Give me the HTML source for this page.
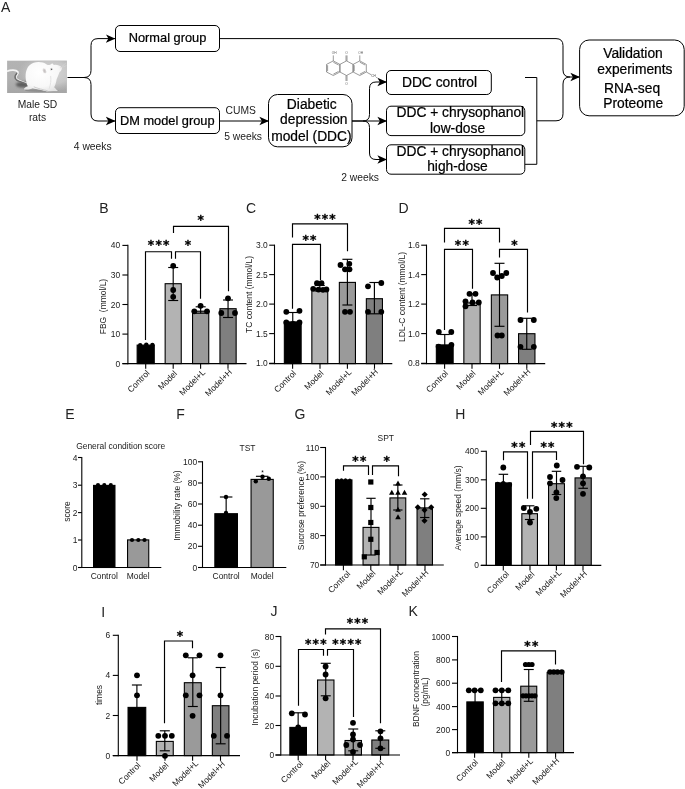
<!DOCTYPE html>
<html lang="en"><head><meta charset="utf-8"><title>Figure</title>
<style>html,body{margin:0;padding:0;background:#fff;}svg{display:block;}text{font-family:"Liberation Sans",sans-serif;}.st{font-family:"DejaVu Sans",sans-serif;font-weight:bold;stroke:#000;stroke-width:0.35px;}</style>
</head><body>
<svg width="685" height="789" viewBox="0 0 685 789">
<rect width="685" height="789" fill="#fff"/>
<defs>
<marker id="ah" viewBox="0 0 10 10" refX="9.5" refY="5" markerWidth="9.6" markerHeight="9.6" orient="auto" markerUnits="userSpaceOnUse"><path d="M0,0.6 L10,5 L0,9.4 L2.6,5 Z" fill="#000"/></marker>
<linearGradient id="bg" x1="0" y1="0" x2="0" y2="1"><stop offset="0" stop-color="#b3b3b3"/><stop offset="0.55" stop-color="#b1b1b1"/><stop offset="1" stop-color="#a6a6a6"/></linearGradient>
<radialGradient id="glow" cx="0.5" cy="0.5" r="0.5"><stop offset="0" stop-color="#d6d6d6" stop-opacity="1"/><stop offset="0.6" stop-color="#cccccc" stop-opacity="0.8"/><stop offset="1" stop-color="#c0c0c0" stop-opacity="0"/></radialGradient>
<radialGradient id="fur" cx="0.42" cy="0.35" r="0.7"><stop offset="0" stop-color="#ffffff"/><stop offset="0.7" stop-color="#f8f8f8"/><stop offset="1" stop-color="#e4e4e4"/></radialGradient>
<filter id="b3" x="-50%" y="-50%" width="200%" height="200%"><feGaussianBlur stdDeviation="3"/></filter>
<filter id="b5" x="-30%" y="-30%" width="160%" height="160%"><feGaussianBlur stdDeviation="5"/></filter>
<filter id="b8" x="-30%" y="-80%" width="160%" height="260%"><feGaussianBlur stdDeviation="8"/></filter>
<filter id="b12" x="-40%" y="-80%" width="180%" height="260%"><feGaussianBlur stdDeviation="12"/></filter>
<clipPath id="rc"><rect x="7.1" y="60.4" width="59.8" height="32.5"/></clipPath>
</defs>
<text x="1.00" y="12.30" font-size="14" text-anchor="start" fill="#222">A</text>
<g clip-path="url(#rc)">
<rect x="7" y="60.4" width="60" height="32.6" fill="url(#bg)"/>
<g transform="translate(4,57) scale(0.0993)">
<ellipse cx="470" cy="160" rx="330" ry="190" fill="url(#glow)"/>
<ellipse cx="200" cy="278" rx="82" ry="30" fill="#5e5e5e" filter="url(#b12)"/>
<ellipse cx="380" cy="338" rx="170" ry="14" fill="#8e8e8e" filter="url(#b8)"/>
<path d="M34,142 C70,128 120,128 140,150 C152,170 118,185 118,205 C122,235 180,250 240,268" fill="none" stroke="#f4f4f4" stroke-width="17" stroke-linecap="round" filter="url(#b3)"/>
<path d="M128,165 C110,185 100,205 125,230 C150,250 200,258 245,280" fill="none" stroke="#6c6c6c" stroke-width="15" stroke-linecap="round" filter="url(#b5)"/>
<g filter="url(#b5)">
<path d="M225,250 C208,180 222,112 260,80 C300,45 380,40 430,75 C450,85 470,80 485,62 C492,70 498,78 505,80 C530,75 565,85 582,105 C586,125 575,140 560,150 C550,175 540,200 530,225 C525,260 515,290 505,305 C520,320 535,335 545,343 L430,347 C400,335 330,325 290,314 C270,324 240,330 203,327 C198,312 225,300 240,295 C230,280 227,265 225,250 Z" fill="url(#fur)"/>
</g>
<path d="M300,300 C340,318 400,330 440,340" fill="none" stroke="#cfcfcf" stroke-width="10" filter="url(#b8)"/>
<path d="M470,190 C475,240 470,280 455,320" fill="none" stroke="#e3e3e3" stroke-width="10" filter="url(#b8)"/>
<ellipse cx="408" cy="140" rx="13" ry="24" fill="#c4c0c0" filter="url(#b5)" transform="rotate(-22 408 140)"/>
<ellipse cx="478" cy="123" rx="9" ry="7" fill="#3c3c3c" filter="url(#b3)" transform="rotate(-25 478 123)"/>
<ellipse cx="572" cy="108" rx="6" ry="5" fill="#d9caca" filter="url(#b3)"/>
<path d="M585,95 L625,60 M588,105 L630,85" stroke="#e6e6e6" stroke-width="2.5" fill="none" filter="url(#b3)"/>
</g>
</g>
<text x="37.50" y="108.20" font-size="10.3" text-anchor="middle" fill="#1a1a1a">Male SD</text>
<text x="37.50" y="121.20" font-size="10.3" text-anchor="middle" fill="#1a1a1a">rats</text>
<text x="73.80" y="149.60" font-size="10.3" text-anchor="start" fill="#1a1a1a">4 weeks</text>
<text x="225.60" y="113.90" font-size="10.3" text-anchor="start" fill="#1a1a1a">CUMS</text>
<text x="224.20" y="140.00" font-size="10.3" text-anchor="start" fill="#1a1a1a">5 weeks</text>
<text x="341.20" y="180.50" font-size="10.3" text-anchor="start" fill="#1a1a1a">2 weeks</text>
<path d="M67.5,77.5 L84,77.5 Q91,77.5 91,70.5 L91,45.5 Q91,38.6 98,38.6 L115,38.6" fill="none" stroke="#000" stroke-width="1.0" marker-end="url(#ah)"/>
<path d="M84,77.5 Q91,77.5 91,84.5 L91,114 Q91,121 98,121 L115,121" fill="none" stroke="#000" stroke-width="1.0" marker-end="url(#ah)"/>
<path d="M220,121 L268.5,121" fill="none" stroke="#000" stroke-width="1.0" marker-end="url(#ah)"/>
<path d="M352,121 L386.5,121" fill="none" stroke="#000" stroke-width="1.0" marker-end="url(#ah)"/>
<path d="M352,121 L363,121 Q369.5,121 369.5,114.5 L369.5,88.5 Q369.5,82 376,82 L386.5,82" fill="none" stroke="#000" stroke-width="1.0" marker-end="url(#ah)"/>
<path d="M363,121 Q369.5,121 369.5,127.5 L369.5,153 Q369.5,159.5 376,159.5 L386.5,159.5" fill="none" stroke="#000" stroke-width="1.0" marker-end="url(#ah)"/>
<path d="M220,38.6 L556,38.6 Q563,38.6 563,45.6 L563,70 Q563,77 570,77 L579.5,77" fill="none" stroke="#000" stroke-width="1.0" marker-end="url(#ah)"/>
<path d="M525,77.5 L536.8,77.5 L536.8,164.3 L525,164.3" fill="none" stroke="#000" stroke-width="1.0"/>
<path d="M536.8,120.8 L556,120.8 Q563,120.8 563,113.8 L563,84 Q563,77 570,77" fill="none" stroke="#000" stroke-width="1.0"/>
<rect x="115.5" y="25.5" width="104.0" height="26.0" rx="4.5" ry="4.5" fill="#fff" stroke="#000" stroke-width="1"/>
<text x="167.50" y="42.00" font-size="12.8" text-anchor="middle" fill="#000" stroke="#000" stroke-width="0.22">Normal group</text>
<rect x="115.5" y="107.7" width="104.0" height="25.799999999999997" rx="4.5" ry="4.5" fill="#fff" stroke="#000" stroke-width="1"/>
<text x="167.30" y="124.50" font-size="12.8" text-anchor="middle" fill="#000" stroke="#000" stroke-width="0.22">DM model group</text>
<rect x="268.5" y="94.5" width="83.5" height="52.30000000000001" rx="9" ry="9" fill="#fff" stroke="#000" stroke-width="1"/>
<text x="311.80" y="108.60" font-size="13.8" text-anchor="middle" fill="#000" stroke="#000" stroke-width="0.22">Diabetic</text>
<text x="313.80" y="124.40" font-size="13.8" text-anchor="middle" fill="#000" stroke="#000" stroke-width="0.22">depression</text>
<text x="311.40" y="140.70" font-size="13.8" text-anchor="middle" fill="#000" stroke="#000" stroke-width="0.22">model (DDC)</text>
<rect x="386.5" y="70.5" width="104.80000000000001" height="24.0" rx="4.5" ry="4.5" fill="#fff" stroke="#000" stroke-width="1"/>
<text x="439.50" y="86.60" font-size="13.8" text-anchor="middle" fill="#000" stroke="#000" stroke-width="0.22">DDC control</text>
<rect x="386.5" y="106.2" width="138.29999999999995" height="29.39999999999999" rx="4.5" ry="4.5" fill="#fff" stroke="#000" stroke-width="1"/>
<text x="460.30" y="116.60" font-size="13.8" text-anchor="middle" fill="#000" stroke="#000" stroke-width="0.22">DDC + chrysophanol</text>
<text x="457.50" y="132.70" font-size="13.8" text-anchor="middle" fill="#000" stroke="#000" stroke-width="0.22">low-dose</text>
<rect x="386.5" y="144.8" width="138.29999999999995" height="29.399999999999977" rx="4.5" ry="4.5" fill="#fff" stroke="#000" stroke-width="1"/>
<text x="460.30" y="155.60" font-size="13.8" text-anchor="middle" fill="#000" stroke="#000" stroke-width="0.22">DDC + chrysophanol</text>
<text x="457.50" y="171.40" font-size="13.8" text-anchor="middle" fill="#000" stroke="#000" stroke-width="0.22">high-dose</text>
<rect x="579.6" y="40" width="104.60000000000002" height="75.8" rx="9.5" ry="9.5" fill="#fff" stroke="#000" stroke-width="1"/>
<text x="633.00" y="58.10" font-size="13.8" text-anchor="middle" fill="#000" stroke="#000" stroke-width="0.22">Validation</text>
<text x="634.90" y="73.90" font-size="13.8" text-anchor="middle" fill="#000" stroke="#000" stroke-width="0.22">experiments</text>
<text x="632.10" y="93.10" font-size="13.8" text-anchor="middle" fill="#000" stroke="#000" stroke-width="0.22">RNA-seq</text>
<text x="633.20" y="108.20" font-size="13.8" text-anchor="middle" fill="#000" stroke="#000" stroke-width="0.22">Proteome</text>
<line x1="326.50" y1="64.40" x2="333.30" y2="60.90" stroke="#5c5c5c" stroke-width="0.62" stroke-linecap="butt"/>
<line x1="333.30" y1="60.90" x2="339.90" y2="64.40" stroke="#5c5c5c" stroke-width="0.62" stroke-linecap="butt"/>
<line x1="339.90" y1="64.40" x2="339.90" y2="72.00" stroke="#5c5c5c" stroke-width="0.62" stroke-linecap="butt"/>
<line x1="339.90" y1="72.00" x2="333.30" y2="75.50" stroke="#5c5c5c" stroke-width="0.62" stroke-linecap="butt"/>
<line x1="333.30" y1="75.50" x2="326.50" y2="72.00" stroke="#5c5c5c" stroke-width="0.62" stroke-linecap="butt"/>
<line x1="326.50" y1="72.00" x2="326.50" y2="64.40" stroke="#5c5c5c" stroke-width="0.62" stroke-linecap="butt"/>
<line x1="339.90" y1="64.40" x2="346.50" y2="60.90" stroke="#5c5c5c" stroke-width="0.62" stroke-linecap="butt"/>
<line x1="346.50" y1="60.90" x2="353.10" y2="64.40" stroke="#5c5c5c" stroke-width="0.62" stroke-linecap="butt"/>
<line x1="353.10" y1="64.40" x2="353.10" y2="72.00" stroke="#5c5c5c" stroke-width="0.62" stroke-linecap="butt"/>
<line x1="353.10" y1="72.00" x2="346.50" y2="75.50" stroke="#5c5c5c" stroke-width="0.62" stroke-linecap="butt"/>
<line x1="346.50" y1="75.50" x2="339.90" y2="72.00" stroke="#5c5c5c" stroke-width="0.62" stroke-linecap="butt"/>
<line x1="339.90" y1="72.00" x2="339.90" y2="64.40" stroke="#5c5c5c" stroke-width="0.62" stroke-linecap="butt"/>
<line x1="353.10" y1="64.40" x2="359.80" y2="60.90" stroke="#5c5c5c" stroke-width="0.62" stroke-linecap="butt"/>
<line x1="359.80" y1="60.90" x2="366.30" y2="64.40" stroke="#5c5c5c" stroke-width="0.62" stroke-linecap="butt"/>
<line x1="366.30" y1="64.40" x2="366.30" y2="72.00" stroke="#5c5c5c" stroke-width="0.62" stroke-linecap="butt"/>
<line x1="366.30" y1="72.00" x2="359.80" y2="75.50" stroke="#5c5c5c" stroke-width="0.62" stroke-linecap="butt"/>
<line x1="359.80" y1="75.50" x2="353.10" y2="72.00" stroke="#5c5c5c" stroke-width="0.62" stroke-linecap="butt"/>
<line x1="353.10" y1="72.00" x2="353.10" y2="64.40" stroke="#5c5c5c" stroke-width="0.62" stroke-linecap="butt"/>
<line x1="327.60" y1="65.20" x2="327.60" y2="71.20" stroke="#5c5c5c" stroke-width="0.62" stroke-linecap="butt"/>
<line x1="333.30" y1="62.20" x2="338.60" y2="65.00" stroke="#5c5c5c" stroke-width="0.62" stroke-linecap="butt"/>
<line x1="333.30" y1="74.20" x2="338.60" y2="71.40" stroke="#5c5c5c" stroke-width="0.62" stroke-linecap="butt"/>
<line x1="354.20" y1="65.20" x2="354.20" y2="71.20" stroke="#5c5c5c" stroke-width="0.62" stroke-linecap="butt"/>
<line x1="359.80" y1="62.20" x2="365.10" y2="65.00" stroke="#5c5c5c" stroke-width="0.62" stroke-linecap="butt"/>
<line x1="359.80" y1="74.20" x2="365.10" y2="71.40" stroke="#5c5c5c" stroke-width="0.62" stroke-linecap="butt"/>
<line x1="333.30" y1="60.90" x2="333.30" y2="55.40" stroke="#5c5c5c" stroke-width="0.62" stroke-linecap="butt"/>
<line x1="359.80" y1="60.90" x2="359.80" y2="55.40" stroke="#5c5c5c" stroke-width="0.62" stroke-linecap="butt"/>
<line x1="346.00" y1="60.90" x2="346.00" y2="55.40" stroke="#5c5c5c" stroke-width="0.62" stroke-linecap="butt"/>
<line x1="347.00" y1="60.90" x2="347.00" y2="55.40" stroke="#5c5c5c" stroke-width="0.62" stroke-linecap="butt"/>
<line x1="346.00" y1="75.50" x2="346.00" y2="81.00" stroke="#5c5c5c" stroke-width="0.62" stroke-linecap="butt"/>
<line x1="347.00" y1="75.50" x2="347.00" y2="81.00" stroke="#5c5c5c" stroke-width="0.62" stroke-linecap="butt"/>
<line x1="366.30" y1="72.00" x2="371.30" y2="74.80" stroke="#5c5c5c" stroke-width="0.62" stroke-linecap="butt"/>
<text x="334.20" y="54.00" font-size="3.2" text-anchor="middle" fill="#5c5c5c">OH</text>
<text x="360.70" y="54.00" font-size="3.2" text-anchor="middle" fill="#5c5c5c">OH</text>
<text x="346.50" y="54.00" font-size="3.2" text-anchor="middle" fill="#5c5c5c">O</text>
<text x="346.50" y="84.60" font-size="3.2" text-anchor="middle" fill="#5c5c5c">O</text>
<text x="374.30" y="77.30" font-size="3.2" text-anchor="middle" fill="#444">CH<tspan font-size="2.4" dy="0.6">3</tspan></text>
<text x="99.30" y="213.30" font-size="14" text-anchor="start" fill="#222">B</text>
<rect x="137.15" y="345.10" width="17.10" height="18.50" fill="#000000" stroke="#000" stroke-width="1.1"/>
<rect x="165.15" y="283.70" width="16.10" height="79.90" fill="#b3b3b3" stroke="#000" stroke-width="1.1"/>
<rect x="192.55" y="311.20" width="16.20" height="52.40" fill="#9a9a9a" stroke="#000" stroke-width="1.1"/>
<rect x="219.95" y="308.70" width="16.20" height="54.90" fill="#7f7f7f" stroke="#000" stroke-width="1.1"/>
<line x1="173.20" y1="267.50" x2="173.20" y2="300.50" stroke="#000" stroke-width="1.15" stroke-linecap="butt"/>
<line x1="168.20" y1="267.50" x2="178.20" y2="267.50" stroke="#000" stroke-width="1.15" stroke-linecap="butt"/>
<line x1="168.20" y1="300.50" x2="178.20" y2="300.50" stroke="#000" stroke-width="1.15" stroke-linecap="butt"/>
<line x1="200.65" y1="306.80" x2="200.65" y2="313.20" stroke="#000" stroke-width="1.15" stroke-linecap="butt"/>
<line x1="195.65" y1="306.80" x2="205.65" y2="306.80" stroke="#000" stroke-width="1.15" stroke-linecap="butt"/>
<line x1="195.65" y1="313.20" x2="205.65" y2="313.20" stroke="#000" stroke-width="1.15" stroke-linecap="butt"/>
<line x1="228.05" y1="300.00" x2="228.05" y2="317.50" stroke="#000" stroke-width="1.15" stroke-linecap="butt"/>
<line x1="223.05" y1="300.00" x2="233.05" y2="300.00" stroke="#000" stroke-width="1.15" stroke-linecap="butt"/>
<line x1="223.05" y1="317.50" x2="233.05" y2="317.50" stroke="#000" stroke-width="1.15" stroke-linecap="butt"/>
<line x1="127.90" y1="244.85" x2="127.90" y2="364.15" stroke="#000" stroke-width="1.1" stroke-linecap="butt"/>
<line x1="122.40" y1="363.60" x2="246.50" y2="363.60" stroke="#000" stroke-width="1.1" stroke-linecap="butt"/>
<line x1="122.40" y1="245.40" x2="127.90" y2="245.40" stroke="#000" stroke-width="1.1" stroke-linecap="butt"/>
<text x="120.20" y="248.40" font-size="8.45" text-anchor="end" fill="#1a1a1a">40</text>
<line x1="122.40" y1="275.00" x2="127.90" y2="275.00" stroke="#000" stroke-width="1.1" stroke-linecap="butt"/>
<text x="120.20" y="278.00" font-size="8.45" text-anchor="end" fill="#1a1a1a">30</text>
<line x1="122.40" y1="304.50" x2="127.90" y2="304.50" stroke="#000" stroke-width="1.1" stroke-linecap="butt"/>
<text x="120.20" y="307.50" font-size="8.45" text-anchor="end" fill="#1a1a1a">20</text>
<line x1="122.40" y1="334.10" x2="127.90" y2="334.10" stroke="#000" stroke-width="1.1" stroke-linecap="butt"/>
<text x="120.20" y="337.10" font-size="8.45" text-anchor="end" fill="#1a1a1a">10</text>
<line x1="122.40" y1="363.60" x2="127.90" y2="363.60" stroke="#000" stroke-width="1.1" stroke-linecap="butt"/>
<text x="120.20" y="366.60" font-size="8.45" text-anchor="end" fill="#1a1a1a">0</text>
<line x1="145.70" y1="363.60" x2="145.70" y2="368.80" stroke="#000" stroke-width="1.1" stroke-linecap="butt"/>
<text x="150.20" y="373.70" font-size="8.45" text-anchor="end" fill="#1a1a1a" transform="rotate(-45 150.20 373.70)">Control</text>
<line x1="173.20" y1="363.60" x2="173.20" y2="368.80" stroke="#000" stroke-width="1.1" stroke-linecap="butt"/>
<text x="177.70" y="374.10" font-size="8.45" text-anchor="end" fill="#1a1a1a" transform="rotate(-45 177.70 374.10)">Model</text>
<line x1="200.60" y1="363.60" x2="200.60" y2="368.80" stroke="#000" stroke-width="1.1" stroke-linecap="butt"/>
<text x="205.80" y="372.90" font-size="8.45" text-anchor="end" fill="#1a1a1a" transform="rotate(-45 205.80 372.90)">Model+L</text>
<line x1="228.00" y1="363.60" x2="228.00" y2="368.80" stroke="#000" stroke-width="1.1" stroke-linecap="butt"/>
<text x="232.50" y="372.70" font-size="8.45" text-anchor="end" fill="#1a1a1a" transform="rotate(-45 232.50 372.70)">Model+H</text>
<text x="105.80" y="306.50" font-size="8.45" text-anchor="middle" fill="#1a1a1a" transform="rotate(-90 105.80 306.50)">FBG&#160;&#160;(mmol/L)</text>
<circle cx="140.20" cy="345.30" r="2.2" fill="#000"/>
<circle cx="146.30" cy="344.60" r="2.2" fill="#000"/>
<circle cx="152.40" cy="345.00" r="2.2" fill="#000"/>
<circle cx="173.20" cy="265.80" r="2.9" fill="#000"/>
<circle cx="173.20" cy="290.00" r="2.9" fill="#000"/>
<circle cx="173.20" cy="296.80" r="2.9" fill="#000"/>
<circle cx="194.30" cy="311.30" r="2.9" fill="#000"/>
<circle cx="200.60" cy="305.80" r="2.9" fill="#000"/>
<circle cx="207.00" cy="311.30" r="2.9" fill="#000"/>
<circle cx="221.30" cy="313.00" r="2.9" fill="#000"/>
<circle cx="228.00" cy="298.30" r="2.9" fill="#000"/>
<circle cx="235.00" cy="313.00" r="2.9" fill="#000"/>
<polyline points="145.50,340.00 145.50,251.70 171.50,251.70 171.50,258.80" fill="none" stroke="#000" stroke-width="1.15" stroke-linejoin="miter"/>
<text x="159.20" y="248.80" font-size="12.2" text-anchor="middle" fill="#000" class="st" letter-spacing="1.2">***</text>
<polyline points="175.50,258.80 175.50,251.70 200.50,251.70 200.50,298.80" fill="none" stroke="#000" stroke-width="1.15" stroke-linejoin="miter"/>
<text x="188.60" y="248.80" font-size="12.2" text-anchor="middle" fill="#000" class="st" letter-spacing="1.2">*</text>
<polyline points="173.50,233.00 173.50,226.30 228.50,226.30 228.50,291.30" fill="none" stroke="#000" stroke-width="1.15" stroke-linejoin="miter"/>
<text x="201.20" y="224.20" font-size="12.2" text-anchor="middle" fill="#000" class="st" letter-spacing="1.2">*</text>
<text x="246.00" y="213.30" font-size="14" text-anchor="start" fill="#222">C</text>
<rect x="284.35" y="321.90" width="16.80" height="41.70" fill="#000000" stroke="#000" stroke-width="1.1"/>
<rect x="311.85" y="288.90" width="15.90" height="74.70" fill="#b3b3b3" stroke="#000" stroke-width="1.1"/>
<rect x="339.35" y="282.40" width="16.10" height="81.20" fill="#9a9a9a" stroke="#000" stroke-width="1.1"/>
<rect x="366.35" y="298.70" width="16.10" height="64.90" fill="#7f7f7f" stroke="#000" stroke-width="1.1"/>
<line x1="292.75" y1="312.50" x2="292.75" y2="322.00" stroke="#000" stroke-width="1.15" stroke-linecap="butt"/>
<line x1="287.75" y1="312.50" x2="297.75" y2="312.50" stroke="#000" stroke-width="1.15" stroke-linecap="butt"/>
<line x1="319.80" y1="285.50" x2="319.80" y2="291.00" stroke="#000" stroke-width="1.15" stroke-linecap="butt"/>
<line x1="314.80" y1="285.50" x2="324.80" y2="285.50" stroke="#000" stroke-width="1.15" stroke-linecap="butt"/>
<line x1="314.80" y1="291.00" x2="324.80" y2="291.00" stroke="#000" stroke-width="1.15" stroke-linecap="butt"/>
<line x1="347.40" y1="259.30" x2="347.40" y2="305.00" stroke="#000" stroke-width="1.15" stroke-linecap="butt"/>
<line x1="342.40" y1="259.30" x2="352.40" y2="259.30" stroke="#000" stroke-width="1.15" stroke-linecap="butt"/>
<line x1="342.40" y1="305.00" x2="352.40" y2="305.00" stroke="#000" stroke-width="1.15" stroke-linecap="butt"/>
<line x1="374.40" y1="282.50" x2="374.40" y2="313.80" stroke="#000" stroke-width="1.15" stroke-linecap="butt"/>
<line x1="369.40" y1="282.50" x2="379.40" y2="282.50" stroke="#000" stroke-width="1.15" stroke-linecap="butt"/>
<line x1="369.40" y1="313.80" x2="379.40" y2="313.80" stroke="#000" stroke-width="1.15" stroke-linecap="butt"/>
<line x1="274.50" y1="244.65" x2="274.50" y2="364.15" stroke="#000" stroke-width="1.1" stroke-linecap="butt"/>
<line x1="269.20" y1="363.60" x2="392.30" y2="363.60" stroke="#000" stroke-width="1.1" stroke-linecap="butt"/>
<line x1="269.20" y1="245.20" x2="274.50" y2="245.20" stroke="#000" stroke-width="1.1" stroke-linecap="butt"/>
<text x="267.80" y="248.20" font-size="8.45" text-anchor="end" fill="#1a1a1a">3.0</text>
<line x1="269.20" y1="274.60" x2="274.50" y2="274.60" stroke="#000" stroke-width="1.1" stroke-linecap="butt"/>
<text x="267.80" y="277.60" font-size="8.45" text-anchor="end" fill="#1a1a1a">2.5</text>
<line x1="269.20" y1="304.10" x2="274.50" y2="304.10" stroke="#000" stroke-width="1.1" stroke-linecap="butt"/>
<text x="267.80" y="307.10" font-size="8.45" text-anchor="end" fill="#1a1a1a">2.0</text>
<line x1="269.20" y1="333.60" x2="274.50" y2="333.60" stroke="#000" stroke-width="1.1" stroke-linecap="butt"/>
<text x="267.80" y="336.60" font-size="8.45" text-anchor="end" fill="#1a1a1a">1.5</text>
<line x1="269.20" y1="363.30" x2="274.50" y2="363.30" stroke="#000" stroke-width="1.1" stroke-linecap="butt"/>
<text x="267.80" y="366.30" font-size="8.45" text-anchor="end" fill="#1a1a1a">1.0</text>
<line x1="292.60" y1="363.60" x2="292.60" y2="368.80" stroke="#000" stroke-width="1.1" stroke-linecap="butt"/>
<text x="296.70" y="373.80" font-size="8.45" text-anchor="end" fill="#1a1a1a" transform="rotate(-45 296.70 373.80)">Control</text>
<line x1="320.00" y1="363.60" x2="320.00" y2="368.80" stroke="#000" stroke-width="1.1" stroke-linecap="butt"/>
<text x="324.10" y="373.90" font-size="8.45" text-anchor="end" fill="#1a1a1a" transform="rotate(-45 324.10 373.90)">Model</text>
<line x1="347.40" y1="363.60" x2="347.40" y2="368.80" stroke="#000" stroke-width="1.1" stroke-linecap="butt"/>
<text x="352.20" y="372.60" font-size="8.45" text-anchor="end" fill="#1a1a1a" transform="rotate(-45 352.20 372.60)">Model+L</text>
<line x1="374.50" y1="363.60" x2="374.50" y2="368.80" stroke="#000" stroke-width="1.1" stroke-linecap="butt"/>
<text x="378.70" y="372.30" font-size="8.45" text-anchor="end" fill="#1a1a1a" transform="rotate(-45 378.70 372.30)">Model+H</text>
<text x="252.00" y="294.50" font-size="8.45" text-anchor="middle" fill="#1a1a1a" transform="rotate(-90 252.00 294.50)">TC content (mmol/L)</text>
<circle cx="286.30" cy="311.80" r="2.9" fill="#000"/>
<circle cx="299.50" cy="310.80" r="2.9" fill="#000"/>
<circle cx="286.30" cy="322.40" r="2.9" fill="#000"/>
<circle cx="293.00" cy="323.80" r="2.9" fill="#000"/>
<circle cx="299.50" cy="322.40" r="2.9" fill="#000"/>
<circle cx="313.20" cy="288.80" r="2.9" fill="#000"/>
<circle cx="317.00" cy="283.20" r="2.9" fill="#000"/>
<circle cx="321.50" cy="283.20" r="2.9" fill="#000"/>
<circle cx="318.50" cy="289.60" r="2.9" fill="#000"/>
<circle cx="323.00" cy="289.80" r="2.9" fill="#000"/>
<circle cx="326.40" cy="289.50" r="2.9" fill="#000"/>
<circle cx="340.50" cy="265.00" r="2.9" fill="#000"/>
<circle cx="349.30" cy="263.80" r="2.9" fill="#000"/>
<circle cx="345.00" cy="269.30" r="2.9" fill="#000"/>
<circle cx="349.50" cy="269.30" r="2.9" fill="#000"/>
<circle cx="345.00" cy="311.80" r="2.9" fill="#000"/>
<circle cx="350.00" cy="311.80" r="2.9" fill="#000"/>
<circle cx="368.00" cy="286.30" r="2.9" fill="#000"/>
<circle cx="381.30" cy="283.00" r="2.9" fill="#000"/>
<circle cx="368.00" cy="311.80" r="2.9" fill="#000"/>
<circle cx="381.30" cy="311.80" r="2.9" fill="#000"/>
<polyline points="292.50,237.50 292.50,223.80 347.50,223.80 347.50,251.30" fill="none" stroke="#000" stroke-width="1.15" stroke-linejoin="miter"/>
<text x="325.60" y="223.40" font-size="12.2" text-anchor="middle" fill="#000" class="st" letter-spacing="1.2">***</text>
<polyline points="292.50,308.80 292.50,244.30 320.50,244.30 320.50,280.00" fill="none" stroke="#000" stroke-width="1.15" stroke-linejoin="miter"/>
<text x="310.10" y="244.20" font-size="12.2" text-anchor="middle" fill="#000" class="st" letter-spacing="1.2">**</text>
<text x="398.50" y="213.30" font-size="14" text-anchor="start" fill="#222">D</text>
<rect x="436.35" y="344.90" width="16.80" height="18.70" fill="#000000" stroke="#000" stroke-width="1.1"/>
<rect x="463.85" y="302.90" width="16.30" height="60.70" fill="#b3b3b3" stroke="#000" stroke-width="1.1"/>
<rect x="491.35" y="294.90" width="16.30" height="68.70" fill="#9a9a9a" stroke="#000" stroke-width="1.1"/>
<rect x="518.55" y="333.70" width="16.40" height="29.90" fill="#7f7f7f" stroke="#000" stroke-width="1.1"/>
<line x1="444.75" y1="334.50" x2="444.75" y2="345.00" stroke="#000" stroke-width="1.15" stroke-linecap="butt"/>
<line x1="439.75" y1="334.50" x2="449.75" y2="334.50" stroke="#000" stroke-width="1.15" stroke-linecap="butt"/>
<line x1="472.00" y1="293.80" x2="472.00" y2="305.50" stroke="#000" stroke-width="1.15" stroke-linecap="butt"/>
<line x1="467.00" y1="293.80" x2="477.00" y2="293.80" stroke="#000" stroke-width="1.15" stroke-linecap="butt"/>
<line x1="467.00" y1="305.50" x2="477.00" y2="305.50" stroke="#000" stroke-width="1.15" stroke-linecap="butt"/>
<line x1="499.50" y1="263.30" x2="499.50" y2="326.30" stroke="#000" stroke-width="1.15" stroke-linecap="butt"/>
<line x1="494.50" y1="263.30" x2="504.50" y2="263.30" stroke="#000" stroke-width="1.15" stroke-linecap="butt"/>
<line x1="494.50" y1="326.30" x2="504.50" y2="326.30" stroke="#000" stroke-width="1.15" stroke-linecap="butt"/>
<line x1="526.75" y1="318.30" x2="526.75" y2="349.30" stroke="#000" stroke-width="1.15" stroke-linecap="butt"/>
<line x1="521.75" y1="318.30" x2="531.75" y2="318.30" stroke="#000" stroke-width="1.15" stroke-linecap="butt"/>
<line x1="521.75" y1="349.30" x2="531.75" y2="349.30" stroke="#000" stroke-width="1.15" stroke-linecap="butt"/>
<line x1="426.50" y1="244.65" x2="426.50" y2="364.15" stroke="#000" stroke-width="1.1" stroke-linecap="butt"/>
<line x1="421.20" y1="363.60" x2="545.20" y2="363.60" stroke="#000" stroke-width="1.1" stroke-linecap="butt"/>
<line x1="421.20" y1="245.20" x2="426.50" y2="245.20" stroke="#000" stroke-width="1.1" stroke-linecap="butt"/>
<text x="419.80" y="248.20" font-size="8.45" text-anchor="end" fill="#1a1a1a">1.6</text>
<line x1="421.20" y1="274.60" x2="426.50" y2="274.60" stroke="#000" stroke-width="1.1" stroke-linecap="butt"/>
<text x="419.80" y="277.60" font-size="8.45" text-anchor="end" fill="#1a1a1a">1.4</text>
<line x1="421.20" y1="304.10" x2="426.50" y2="304.10" stroke="#000" stroke-width="1.1" stroke-linecap="butt"/>
<text x="419.80" y="307.10" font-size="8.45" text-anchor="end" fill="#1a1a1a">1.2</text>
<line x1="421.20" y1="333.60" x2="426.50" y2="333.60" stroke="#000" stroke-width="1.1" stroke-linecap="butt"/>
<text x="419.80" y="336.60" font-size="8.45" text-anchor="end" fill="#1a1a1a">1.0</text>
<line x1="421.20" y1="363.30" x2="426.50" y2="363.30" stroke="#000" stroke-width="1.1" stroke-linecap="butt"/>
<text x="419.80" y="366.30" font-size="8.45" text-anchor="end" fill="#1a1a1a">0.8</text>
<line x1="444.60" y1="363.60" x2="444.60" y2="368.80" stroke="#000" stroke-width="1.1" stroke-linecap="butt"/>
<text x="448.70" y="373.80" font-size="8.45" text-anchor="end" fill="#1a1a1a" transform="rotate(-45 448.70 373.80)">Control</text>
<line x1="472.00" y1="363.60" x2="472.00" y2="368.80" stroke="#000" stroke-width="1.1" stroke-linecap="butt"/>
<text x="476.10" y="373.90" font-size="8.45" text-anchor="end" fill="#1a1a1a" transform="rotate(-45 476.10 373.90)">Model</text>
<line x1="499.50" y1="363.60" x2="499.50" y2="368.80" stroke="#000" stroke-width="1.1" stroke-linecap="butt"/>
<text x="504.30" y="372.60" font-size="8.45" text-anchor="end" fill="#1a1a1a" transform="rotate(-45 504.30 372.60)">Model+L</text>
<line x1="526.80" y1="363.60" x2="526.80" y2="368.80" stroke="#000" stroke-width="1.1" stroke-linecap="butt"/>
<text x="531.00" y="372.30" font-size="8.45" text-anchor="end" fill="#1a1a1a" transform="rotate(-45 531.00 372.30)">Model+H</text>
<text x="404.60" y="297.00" font-size="8.45" text-anchor="middle" fill="#1a1a1a" transform="rotate(-90 404.60 297.00)">LDL-C content (mmol/L)</text>
<circle cx="438.80" cy="332.00" r="2.9" fill="#000"/>
<circle cx="451.30" cy="332.00" r="2.9" fill="#000"/>
<circle cx="438.60" cy="346.60" r="2.9" fill="#000"/>
<circle cx="451.40" cy="344.80" r="2.9" fill="#000"/>
<circle cx="465.50" cy="301.30" r="2.9" fill="#000"/>
<circle cx="469.50" cy="293.80" r="2.9" fill="#000"/>
<circle cx="475.50" cy="293.80" r="2.9" fill="#000"/>
<circle cx="472.50" cy="302.50" r="2.9" fill="#000"/>
<circle cx="478.80" cy="302.50" r="2.9" fill="#000"/>
<circle cx="465.50" cy="306.30" r="2.9" fill="#000"/>
<circle cx="493.00" cy="273.00" r="2.9" fill="#000"/>
<circle cx="506.30" cy="273.00" r="2.9" fill="#000"/>
<circle cx="497.20" cy="277.50" r="2.9" fill="#000"/>
<circle cx="501.80" cy="276.00" r="2.9" fill="#000"/>
<circle cx="497.50" cy="335.50" r="2.9" fill="#000"/>
<circle cx="501.80" cy="335.50" r="2.9" fill="#000"/>
<circle cx="520.50" cy="320.00" r="2.9" fill="#000"/>
<circle cx="533.80" cy="320.00" r="2.9" fill="#000"/>
<circle cx="520.50" cy="346.80" r="2.9" fill="#000"/>
<circle cx="533.80" cy="346.80" r="2.9" fill="#000"/>
<polyline points="444.50,242.50 444.50,228.30 499.50,228.30 499.50,242.50" fill="none" stroke="#000" stroke-width="1.15" stroke-linejoin="miter"/>
<text x="476.10" y="227.50" font-size="12.2" text-anchor="middle" fill="#000" class="st" letter-spacing="1.2">**</text>
<polyline points="444.50,330.00 444.50,249.30 472.50,249.30 472.50,288.80" fill="none" stroke="#000" stroke-width="1.15" stroke-linejoin="miter"/>
<text x="462.40" y="248.80" font-size="12.2" text-anchor="middle" fill="#000" class="st" letter-spacing="1.2">**</text>
<polyline points="499.50,257.50 499.50,249.30 527.50,249.30 527.50,312.50" fill="none" stroke="#000" stroke-width="1.15" stroke-linejoin="miter"/>
<text x="515.10" y="248.80" font-size="12.2" text-anchor="middle" fill="#000" class="st" letter-spacing="1.2">*</text>
<text x="65.30" y="418.80" font-size="14" text-anchor="start" fill="#222">E</text>
<rect x="93.55" y="485.40" width="21.40" height="82.10" fill="#000000" stroke="#000" stroke-width="1.1"/>
<rect x="127.55" y="539.90" width="21.20" height="27.60" fill="#999999" stroke="#000" stroke-width="1.1"/>
<line x1="81.80" y1="456.95" x2="81.80" y2="568.05" stroke="#000" stroke-width="1.1" stroke-linecap="butt"/>
<line x1="78.00" y1="567.50" x2="161.30" y2="567.50" stroke="#000" stroke-width="1.1" stroke-linecap="butt"/>
<line x1="78.00" y1="457.50" x2="81.80" y2="457.50" stroke="#000" stroke-width="1.1" stroke-linecap="butt"/>
<text x="77.40" y="460.50" font-size="8.45" text-anchor="end" fill="#1a1a1a">4</text>
<line x1="78.00" y1="485.20" x2="81.80" y2="485.20" stroke="#000" stroke-width="1.1" stroke-linecap="butt"/>
<text x="77.40" y="488.20" font-size="8.45" text-anchor="end" fill="#1a1a1a">3</text>
<line x1="78.00" y1="512.60" x2="81.80" y2="512.60" stroke="#000" stroke-width="1.1" stroke-linecap="butt"/>
<text x="77.40" y="515.60" font-size="8.45" text-anchor="end" fill="#1a1a1a">2</text>
<line x1="78.00" y1="540.00" x2="81.80" y2="540.00" stroke="#000" stroke-width="1.1" stroke-linecap="butt"/>
<text x="77.40" y="543.00" font-size="8.45" text-anchor="end" fill="#1a1a1a">1</text>
<line x1="78.00" y1="567.50" x2="81.80" y2="567.50" stroke="#000" stroke-width="1.1" stroke-linecap="butt"/>
<text x="77.40" y="570.50" font-size="8.45" text-anchor="end" fill="#1a1a1a">0</text>
<text x="104.25" y="579.30" font-size="8.45" text-anchor="middle" fill="#1a1a1a">Control</text>
<text x="138.15" y="579.30" font-size="8.45" text-anchor="middle" fill="#1a1a1a">Model</text>
<text x="69.50" y="511.50" font-size="8.45" text-anchor="middle" fill="#1a1a1a" transform="rotate(-90 69.50 511.50)">score</text>
<text x="120.70" y="448.70" font-size="8.45" text-anchor="middle" fill="#1a1a1a">General condition score</text>
<circle cx="98.00" cy="485.20" r="2.1" fill="#000"/>
<circle cx="104.30" cy="485.20" r="2.1" fill="#000"/>
<circle cx="110.80" cy="485.20" r="2.1" fill="#000"/>
<circle cx="132.00" cy="540.00" r="2.1" fill="#000"/>
<circle cx="138.30" cy="540.00" r="2.1" fill="#000"/>
<circle cx="144.50" cy="540.00" r="2.1" fill="#000"/>
<text x="176.20" y="418.80" font-size="14" text-anchor="start" fill="#222">F</text>
<rect x="214.85" y="513.70" width="22.60" height="53.80" fill="#000000" stroke="#000" stroke-width="1.1"/>
<rect x="251.05" y="479.40" width="22.20" height="88.10" fill="#999999" stroke="#000" stroke-width="1.1"/>
<line x1="226.15" y1="497.00" x2="226.15" y2="513.80" stroke="#000" stroke-width="1.15" stroke-linecap="butt"/>
<line x1="219.90" y1="497.00" x2="232.40" y2="497.00" stroke="#000" stroke-width="1.15" stroke-linecap="butt"/>
<line x1="262.15" y1="476.30" x2="262.15" y2="479.50" stroke="#000" stroke-width="1.15" stroke-linecap="butt"/>
<line x1="255.90" y1="476.30" x2="268.40" y2="476.30" stroke="#000" stroke-width="1.15" stroke-linecap="butt"/>
<line x1="202.50" y1="461.25" x2="202.50" y2="568.05" stroke="#000" stroke-width="1.1" stroke-linecap="butt"/>
<line x1="198.00" y1="567.50" x2="286.30" y2="567.50" stroke="#000" stroke-width="1.1" stroke-linecap="butt"/>
<line x1="198.00" y1="461.80" x2="202.50" y2="461.80" stroke="#000" stroke-width="1.1" stroke-linecap="butt"/>
<text x="197.20" y="464.80" font-size="8.45" text-anchor="end" fill="#1a1a1a">100</text>
<line x1="198.00" y1="483.00" x2="202.50" y2="483.00" stroke="#000" stroke-width="1.1" stroke-linecap="butt"/>
<text x="197.20" y="486.00" font-size="8.45" text-anchor="end" fill="#1a1a1a">80</text>
<line x1="198.00" y1="504.00" x2="202.50" y2="504.00" stroke="#000" stroke-width="1.1" stroke-linecap="butt"/>
<text x="197.20" y="507.00" font-size="8.45" text-anchor="end" fill="#1a1a1a">60</text>
<line x1="198.00" y1="525.20" x2="202.50" y2="525.20" stroke="#000" stroke-width="1.1" stroke-linecap="butt"/>
<text x="197.20" y="528.20" font-size="8.45" text-anchor="end" fill="#1a1a1a">40</text>
<line x1="198.00" y1="546.30" x2="202.50" y2="546.30" stroke="#000" stroke-width="1.1" stroke-linecap="butt"/>
<text x="197.20" y="549.30" font-size="8.45" text-anchor="end" fill="#1a1a1a">20</text>
<line x1="198.00" y1="567.50" x2="202.50" y2="567.50" stroke="#000" stroke-width="1.1" stroke-linecap="butt"/>
<text x="197.20" y="570.50" font-size="8.45" text-anchor="end" fill="#1a1a1a">0</text>
<text x="226.15" y="579.30" font-size="8.45" text-anchor="middle" fill="#1a1a1a">Control</text>
<text x="262.15" y="579.30" font-size="8.45" text-anchor="middle" fill="#1a1a1a">Model</text>
<text x="180.50" y="505.60" font-size="8.45" text-anchor="middle" fill="#1a1a1a" transform="rotate(-90 180.50 505.60)">Immobility rate (%)</text>
<text x="247.50" y="451.30" font-size="8.45" text-anchor="middle" fill="#1a1a1a">TST</text>
<circle cx="226.00" cy="497.00" r="2.2" fill="#000"/>
<circle cx="226.00" cy="513.00" r="2.2" fill="#000"/>
<circle cx="255.80" cy="481.30" r="2.2" fill="#000"/>
<circle cx="262.50" cy="476.80" r="2.2" fill="#000"/>
<circle cx="268.80" cy="478.80" r="2.2" fill="#000"/>
<text x="262.50" y="474.60" font-size="6.5" text-anchor="middle" fill="#000">*</text>
<text x="294.50" y="418.80" font-size="14" text-anchor="start" fill="#222">G</text>
<rect x="335.55" y="479.90" width="16.40" height="85.10" fill="#000000" stroke="#000" stroke-width="1.1"/>
<rect x="363.05" y="527.40" width="15.90" height="37.60" fill="#b3b3b3" stroke="#000" stroke-width="1.1"/>
<rect x="389.95" y="497.90" width="15.80" height="67.10" fill="#9a9a9a" stroke="#000" stroke-width="1.1"/>
<rect x="417.05" y="507.90" width="15.40" height="57.10" fill="#7f7f7f" stroke="#000" stroke-width="1.1"/>
<line x1="371.00" y1="498.30" x2="371.00" y2="555.00" stroke="#000" stroke-width="1.15" stroke-linecap="butt"/>
<line x1="366.35" y1="498.30" x2="375.65" y2="498.30" stroke="#000" stroke-width="1.15" stroke-linecap="butt"/>
<line x1="366.35" y1="555.00" x2="375.65" y2="555.00" stroke="#000" stroke-width="1.15" stroke-linecap="butt"/>
<line x1="397.85" y1="485.00" x2="397.85" y2="510.00" stroke="#000" stroke-width="1.15" stroke-linecap="butt"/>
<line x1="393.20" y1="485.00" x2="402.50" y2="485.00" stroke="#000" stroke-width="1.15" stroke-linecap="butt"/>
<line x1="393.20" y1="510.00" x2="402.50" y2="510.00" stroke="#000" stroke-width="1.15" stroke-linecap="butt"/>
<line x1="424.75" y1="498.80" x2="424.75" y2="517.50" stroke="#000" stroke-width="1.15" stroke-linecap="butt"/>
<line x1="420.10" y1="498.80" x2="429.40" y2="498.80" stroke="#000" stroke-width="1.15" stroke-linecap="butt"/>
<line x1="420.10" y1="517.50" x2="429.40" y2="517.50" stroke="#000" stroke-width="1.15" stroke-linecap="butt"/>
<line x1="325.50" y1="446.95" x2="325.50" y2="565.55" stroke="#000" stroke-width="1.1" stroke-linecap="butt"/>
<line x1="320.20" y1="565.00" x2="443.80" y2="565.00" stroke="#000" stroke-width="1.1" stroke-linecap="butt"/>
<line x1="320.20" y1="447.50" x2="325.50" y2="447.50" stroke="#000" stroke-width="1.1" stroke-linecap="butt"/>
<text x="319.30" y="450.50" font-size="8.45" text-anchor="end" fill="#1a1a1a">110</text>
<line x1="320.20" y1="476.90" x2="325.50" y2="476.90" stroke="#000" stroke-width="1.1" stroke-linecap="butt"/>
<text x="319.30" y="479.90" font-size="8.45" text-anchor="end" fill="#1a1a1a">100</text>
<line x1="320.20" y1="506.30" x2="325.50" y2="506.30" stroke="#000" stroke-width="1.1" stroke-linecap="butt"/>
<text x="319.30" y="509.30" font-size="8.45" text-anchor="end" fill="#1a1a1a">90</text>
<line x1="320.20" y1="535.60" x2="325.50" y2="535.60" stroke="#000" stroke-width="1.1" stroke-linecap="butt"/>
<text x="319.30" y="538.60" font-size="8.45" text-anchor="end" fill="#1a1a1a">80</text>
<line x1="320.20" y1="565.00" x2="325.50" y2="565.00" stroke="#000" stroke-width="1.1" stroke-linecap="butt"/>
<text x="319.30" y="568.00" font-size="8.45" text-anchor="end" fill="#1a1a1a">70</text>
<line x1="343.40" y1="565.00" x2="343.40" y2="570.20" stroke="#000" stroke-width="1.1" stroke-linecap="butt"/>
<text x="350.80" y="574.30" font-size="8.45" text-anchor="end" fill="#1a1a1a" transform="rotate(-45 350.80 574.30)">Control</text>
<line x1="370.80" y1="565.00" x2="370.80" y2="570.20" stroke="#000" stroke-width="1.1" stroke-linecap="butt"/>
<text x="376.20" y="573.60" font-size="8.45" text-anchor="end" fill="#1a1a1a" transform="rotate(-45 376.20 573.60)">Model</text>
<line x1="398.00" y1="565.00" x2="398.00" y2="570.20" stroke="#000" stroke-width="1.1" stroke-linecap="butt"/>
<text x="403.70" y="572.30" font-size="8.45" text-anchor="end" fill="#1a1a1a" transform="rotate(-45 403.70 572.30)">Model+L</text>
<line x1="425.00" y1="565.00" x2="425.00" y2="570.20" stroke="#000" stroke-width="1.1" stroke-linecap="butt"/>
<text x="429.20" y="573.20" font-size="8.45" text-anchor="end" fill="#1a1a1a" transform="rotate(-45 429.20 573.20)">Model+H</text>
<text x="304.30" y="505.60" font-size="8.45" text-anchor="middle" fill="#1a1a1a" transform="rotate(-90 304.30 505.60)">Sucrose preference (%)</text>
<text x="385.80" y="441.30" font-size="8.45" text-anchor="middle" fill="#1a1a1a">SPT</text>
<circle cx="337.50" cy="480.20" r="1.6" fill="#000"/>
<circle cx="341.50" cy="479.80" r="1.6" fill="#000"/>
<circle cx="345.50" cy="479.80" r="1.6" fill="#000"/>
<circle cx="349.80" cy="480.20" r="1.6" fill="#000"/>
<rect x="368.20" y="479.40" width="5.2" height="5.2" fill="#000"/>
<rect x="368.20" y="504.90" width="5.2" height="5.2" fill="#000"/>
<rect x="368.20" y="519.90" width="5.2" height="5.2" fill="#000"/>
<rect x="368.20" y="536.70" width="5.2" height="5.2" fill="#000"/>
<rect x="374.40" y="549.90" width="5.2" height="5.2" fill="#000"/>
<rect x="361.70" y="554.20" width="5.2" height="5.2" fill="#000"/>
<polygon points="398.00,480.48 400.80,485.52 395.20,485.52" fill="#000"/>
<polygon points="391.80,489.78 394.60,494.82 389.00,494.82" fill="#000"/>
<polygon points="398.00,489.78 400.80,494.82 395.20,494.82" fill="#000"/>
<polygon points="404.50,489.78 407.30,494.82 401.70,494.82" fill="#000"/>
<polygon points="398.00,506.78 400.80,511.82 395.20,511.82" fill="#000"/>
<polygon points="398.00,514.28 400.80,519.32 395.20,519.32" fill="#000"/>
<polygon points="424.70,491.45 427.75,494.50 424.70,497.55 421.65,494.50" fill="#000"/>
<polygon points="417.80,504.25 420.85,507.30 417.80,510.35 414.75,507.30" fill="#000"/>
<polygon points="424.50,507.05 427.55,510.10 424.50,513.15 421.45,510.10" fill="#000"/>
<polygon points="431.20,504.25 434.25,507.30 431.20,510.35 428.15,507.30" fill="#000"/>
<polygon points="424.50,517.75 427.55,520.80 424.50,523.85 421.45,520.80" fill="#000"/>
<polyline points="343.50,470.80 343.50,465.80 368.50,465.80 368.50,475.00" fill="none" stroke="#000" stroke-width="1.15" stroke-linejoin="miter"/>
<text x="359.90" y="464.50" font-size="12.2" text-anchor="middle" fill="#000" class="st" letter-spacing="1.2">**</text>
<polyline points="372.50,475.00 372.50,465.80 398.50,465.80 398.50,476.30" fill="none" stroke="#000" stroke-width="1.15" stroke-linejoin="miter"/>
<text x="387.40" y="464.50" font-size="12.2" text-anchor="middle" fill="#000" class="st" letter-spacing="1.2">*</text>
<text x="455.30" y="418.80" font-size="14" text-anchor="start" fill="#222">H</text>
<rect x="495.55" y="482.90" width="15.70" height="82.50" fill="#000000" stroke="#000" stroke-width="1.1"/>
<rect x="521.85" y="513.70" width="15.60" height="51.70" fill="#b3b3b3" stroke="#000" stroke-width="1.1"/>
<rect x="548.55" y="483.70" width="15.90" height="81.70" fill="#9a9a9a" stroke="#000" stroke-width="1.1"/>
<rect x="575.05" y="477.90" width="16.20" height="87.50" fill="#7f7f7f" stroke="#000" stroke-width="1.1"/>
<line x1="503.40" y1="474.30" x2="503.40" y2="483.00" stroke="#000" stroke-width="1.15" stroke-linecap="butt"/>
<line x1="498.65" y1="474.30" x2="508.15" y2="474.30" stroke="#000" stroke-width="1.15" stroke-linecap="butt"/>
<line x1="529.65" y1="505.80" x2="529.65" y2="519.50" stroke="#000" stroke-width="1.15" stroke-linecap="butt"/>
<line x1="524.90" y1="505.80" x2="534.40" y2="505.80" stroke="#000" stroke-width="1.15" stroke-linecap="butt"/>
<line x1="524.90" y1="519.50" x2="534.40" y2="519.50" stroke="#000" stroke-width="1.15" stroke-linecap="butt"/>
<line x1="556.50" y1="471.30" x2="556.50" y2="494.50" stroke="#000" stroke-width="1.15" stroke-linecap="butt"/>
<line x1="551.75" y1="471.30" x2="561.25" y2="471.30" stroke="#000" stroke-width="1.15" stroke-linecap="butt"/>
<line x1="551.75" y1="494.50" x2="561.25" y2="494.50" stroke="#000" stroke-width="1.15" stroke-linecap="butt"/>
<line x1="583.15" y1="466.30" x2="583.15" y2="488.30" stroke="#000" stroke-width="1.15" stroke-linecap="butt"/>
<line x1="578.40" y1="466.30" x2="587.90" y2="466.30" stroke="#000" stroke-width="1.15" stroke-linecap="butt"/>
<line x1="578.40" y1="488.30" x2="587.90" y2="488.30" stroke="#000" stroke-width="1.15" stroke-linecap="butt"/>
<line x1="486.30" y1="450.75" x2="486.30" y2="565.95" stroke="#000" stroke-width="1.1" stroke-linecap="butt"/>
<line x1="480.80" y1="565.40" x2="601.30" y2="565.40" stroke="#000" stroke-width="1.1" stroke-linecap="butt"/>
<line x1="480.80" y1="451.30" x2="486.30" y2="451.30" stroke="#000" stroke-width="1.1" stroke-linecap="butt"/>
<text x="479.00" y="454.30" font-size="8.45" text-anchor="end" fill="#1a1a1a">400</text>
<line x1="480.80" y1="479.80" x2="486.30" y2="479.80" stroke="#000" stroke-width="1.1" stroke-linecap="butt"/>
<text x="479.00" y="482.80" font-size="8.45" text-anchor="end" fill="#1a1a1a">300</text>
<line x1="480.80" y1="508.30" x2="486.30" y2="508.30" stroke="#000" stroke-width="1.1" stroke-linecap="butt"/>
<text x="479.00" y="511.30" font-size="8.45" text-anchor="end" fill="#1a1a1a">200</text>
<line x1="480.80" y1="536.90" x2="486.30" y2="536.90" stroke="#000" stroke-width="1.1" stroke-linecap="butt"/>
<text x="479.00" y="539.90" font-size="8.45" text-anchor="end" fill="#1a1a1a">100</text>
<line x1="480.80" y1="565.40" x2="486.30" y2="565.40" stroke="#000" stroke-width="1.1" stroke-linecap="butt"/>
<text x="479.00" y="568.40" font-size="8.45" text-anchor="end" fill="#1a1a1a">0</text>
<line x1="503.30" y1="565.40" x2="503.30" y2="570.60" stroke="#000" stroke-width="1.1" stroke-linecap="butt"/>
<text x="509.60" y="574.70" font-size="8.45" text-anchor="end" fill="#1a1a1a" transform="rotate(-45 509.60 574.70)">Control</text>
<line x1="530.00" y1="565.40" x2="530.00" y2="570.60" stroke="#000" stroke-width="1.1" stroke-linecap="butt"/>
<text x="535.00" y="574.80" font-size="8.45" text-anchor="end" fill="#1a1a1a" transform="rotate(-45 535.00 574.80)">Model</text>
<line x1="556.40" y1="565.40" x2="556.40" y2="570.60" stroke="#000" stroke-width="1.1" stroke-linecap="butt"/>
<text x="562.10" y="573.10" font-size="8.45" text-anchor="end" fill="#1a1a1a" transform="rotate(-45 562.10 573.10)">Model+L</text>
<line x1="583.00" y1="565.40" x2="583.00" y2="570.60" stroke="#000" stroke-width="1.1" stroke-linecap="butt"/>
<text x="587.60" y="574.10" font-size="8.45" text-anchor="end" fill="#1a1a1a" transform="rotate(-45 587.60 574.10)">Model+H</text>
<text x="460.50" y="508.00" font-size="8.45" text-anchor="middle" fill="#1a1a1a" transform="rotate(-90 460.50 508.00)">Average speed (mm/s)</text>
<circle cx="503.30" cy="467.50" r="2.9" fill="#000"/>
<circle cx="497.60" cy="484.20" r="2.5" fill="#000"/>
<circle cx="503.30" cy="483.60" r="2.5" fill="#000"/>
<circle cx="509.60" cy="484.80" r="2.5" fill="#000"/>
<circle cx="523.80" cy="508.00" r="2.9" fill="#000"/>
<circle cx="536.30" cy="508.80" r="2.9" fill="#000"/>
<circle cx="530.00" cy="511.80" r="2.9" fill="#000"/>
<circle cx="530.00" cy="522.50" r="2.9" fill="#000"/>
<circle cx="556.80" cy="465.50" r="2.9" fill="#000"/>
<circle cx="550.00" cy="477.00" r="2.9" fill="#000"/>
<circle cx="562.50" cy="480.00" r="2.9" fill="#000"/>
<circle cx="550.00" cy="483.30" r="2.9" fill="#000"/>
<circle cx="556.40" cy="492.30" r="2.9" fill="#000"/>
<circle cx="556.30" cy="498.10" r="2.9" fill="#000"/>
<circle cx="577.00" cy="466.80" r="2.9" fill="#000"/>
<circle cx="589.30" cy="467.50" r="2.9" fill="#000"/>
<circle cx="583.00" cy="476.30" r="2.9" fill="#000"/>
<circle cx="583.00" cy="483.30" r="2.9" fill="#000"/>
<circle cx="583.00" cy="493.80" r="2.9" fill="#000"/>
<polyline points="530.50,445.00 530.50,431.30 583.50,431.30 583.50,464.30" fill="none" stroke="#000" stroke-width="1.15" stroke-linejoin="miter"/>
<text x="562.40" y="430.50" font-size="12.2" text-anchor="middle" fill="#000" class="st" letter-spacing="1.2">***</text>
<polyline points="503.50,460.30 503.50,451.80 527.50,451.80 527.50,498.80" fill="none" stroke="#000" stroke-width="1.15" stroke-linejoin="miter"/>
<text x="518.90" y="451.20" font-size="12.2" text-anchor="middle" fill="#000" class="st" letter-spacing="1.2">**</text>
<polyline points="532.50,498.80 532.50,451.80 556.50,451.80 556.50,460.00" fill="none" stroke="#000" stroke-width="1.15" stroke-linejoin="miter"/>
<text x="548.10" y="451.20" font-size="12.2" text-anchor="middle" fill="#000" class="st" letter-spacing="1.2">**</text>
<text x="101.30" y="617.00" font-size="14" text-anchor="start" fill="#222">I</text>
<rect x="128.05" y="707.40" width="17.70" height="48.20" fill="#000000" stroke="#000" stroke-width="1.1"/>
<rect x="156.35" y="741.40" width="16.90" height="14.20" fill="#b3b3b3" stroke="#000" stroke-width="1.1"/>
<rect x="184.35" y="682.70" width="16.90" height="72.90" fill="#9a9a9a" stroke="#000" stroke-width="1.1"/>
<rect x="212.35" y="705.70" width="16.60" height="49.90" fill="#7f7f7f" stroke="#000" stroke-width="1.1"/>
<line x1="136.90" y1="685.00" x2="136.90" y2="707.50" stroke="#000" stroke-width="1.15" stroke-linecap="butt"/>
<line x1="131.90" y1="685.00" x2="141.90" y2="685.00" stroke="#000" stroke-width="1.15" stroke-linecap="butt"/>
<line x1="164.80" y1="730.80" x2="164.80" y2="750.80" stroke="#000" stroke-width="1.15" stroke-linecap="butt"/>
<line x1="159.80" y1="730.80" x2="169.80" y2="730.80" stroke="#000" stroke-width="1.15" stroke-linecap="butt"/>
<line x1="159.80" y1="750.80" x2="169.80" y2="750.80" stroke="#000" stroke-width="1.15" stroke-linecap="butt"/>
<line x1="192.80" y1="657.80" x2="192.80" y2="706.50" stroke="#000" stroke-width="1.15" stroke-linecap="butt"/>
<line x1="187.80" y1="657.80" x2="197.80" y2="657.80" stroke="#000" stroke-width="1.15" stroke-linecap="butt"/>
<line x1="187.80" y1="706.50" x2="197.80" y2="706.50" stroke="#000" stroke-width="1.15" stroke-linecap="butt"/>
<line x1="220.65" y1="667.50" x2="220.65" y2="743.80" stroke="#000" stroke-width="1.15" stroke-linecap="butt"/>
<line x1="215.65" y1="667.50" x2="225.65" y2="667.50" stroke="#000" stroke-width="1.15" stroke-linecap="butt"/>
<line x1="215.65" y1="743.80" x2="225.65" y2="743.80" stroke="#000" stroke-width="1.15" stroke-linecap="butt"/>
<line x1="118.30" y1="634.75" x2="118.30" y2="756.15" stroke="#000" stroke-width="1.1" stroke-linecap="butt"/>
<line x1="112.80" y1="755.60" x2="240.00" y2="755.60" stroke="#000" stroke-width="1.1" stroke-linecap="butt"/>
<line x1="112.80" y1="635.30" x2="118.30" y2="635.30" stroke="#000" stroke-width="1.1" stroke-linecap="butt"/>
<text x="110.20" y="638.30" font-size="8.45" text-anchor="end" fill="#1a1a1a">6</text>
<line x1="112.80" y1="675.40" x2="118.30" y2="675.40" stroke="#000" stroke-width="1.1" stroke-linecap="butt"/>
<text x="110.20" y="678.40" font-size="8.45" text-anchor="end" fill="#1a1a1a">4</text>
<line x1="112.80" y1="715.50" x2="118.30" y2="715.50" stroke="#000" stroke-width="1.1" stroke-linecap="butt"/>
<text x="110.20" y="718.50" font-size="8.45" text-anchor="end" fill="#1a1a1a">2</text>
<line x1="112.80" y1="755.60" x2="118.30" y2="755.60" stroke="#000" stroke-width="1.1" stroke-linecap="butt"/>
<text x="110.20" y="758.60" font-size="8.45" text-anchor="end" fill="#1a1a1a">0</text>
<line x1="137.00" y1="755.60" x2="137.00" y2="760.80" stroke="#000" stroke-width="1.1" stroke-linecap="butt"/>
<text x="141.10" y="765.80" font-size="8.45" text-anchor="end" fill="#1a1a1a" transform="rotate(-45 141.10 765.80)">Control</text>
<line x1="165.00" y1="755.60" x2="165.00" y2="760.80" stroke="#000" stroke-width="1.1" stroke-linecap="butt"/>
<text x="169.10" y="765.90" font-size="8.45" text-anchor="end" fill="#1a1a1a" transform="rotate(-45 169.10 765.90)">Model</text>
<line x1="192.60" y1="755.60" x2="192.60" y2="760.80" stroke="#000" stroke-width="1.1" stroke-linecap="butt"/>
<text x="198.90" y="763.80" font-size="8.45" text-anchor="end" fill="#1a1a1a" transform="rotate(-45 198.90 763.80)">Model+L</text>
<line x1="220.50" y1="755.60" x2="220.50" y2="760.80" stroke="#000" stroke-width="1.1" stroke-linecap="butt"/>
<text x="225.50" y="764.70" font-size="8.45" text-anchor="end" fill="#1a1a1a" transform="rotate(-45 225.50 764.70)">Model+H</text>
<text x="102.30" y="695.00" font-size="8.45" text-anchor="middle" fill="#1a1a1a" transform="rotate(-90 102.30 695.00)">times</text>
<circle cx="137.00" cy="675.30" r="2.9" fill="#000"/>
<circle cx="137.00" cy="695.30" r="2.9" fill="#000"/>
<circle cx="158.30" cy="735.80" r="2.9" fill="#000"/>
<circle cx="165.00" cy="735.80" r="2.9" fill="#000"/>
<circle cx="171.80" cy="735.80" r="2.9" fill="#000"/>
<circle cx="165.00" cy="755.80" r="2.9" fill="#000"/>
<circle cx="185.80" cy="655.30" r="2.9" fill="#000"/>
<circle cx="199.50" cy="655.30" r="2.9" fill="#000"/>
<circle cx="192.60" cy="675.30" r="2.9" fill="#000"/>
<circle cx="185.80" cy="695.30" r="2.9" fill="#000"/>
<circle cx="199.50" cy="695.30" r="2.9" fill="#000"/>
<circle cx="192.60" cy="715.80" r="2.9" fill="#000"/>
<circle cx="220.50" cy="655.30" r="2.9" fill="#000"/>
<circle cx="220.50" cy="695.30" r="2.9" fill="#000"/>
<circle cx="213.80" cy="735.80" r="2.9" fill="#000"/>
<circle cx="227.00" cy="735.80" r="2.9" fill="#000"/>
<polyline points="164.50,723.30 164.50,641.00 192.50,641.00 192.50,648.30" fill="none" stroke="#000" stroke-width="1.15" stroke-linejoin="miter"/>
<text x="180.60" y="640.20" font-size="12.2" text-anchor="middle" fill="#000" class="st" letter-spacing="1.2">*</text>
<text x="270.50" y="615.80" font-size="14" text-anchor="start" fill="#222">J</text>
<rect x="289.85" y="727.40" width="16.60" height="27.60" fill="#000000" stroke="#000" stroke-width="1.1"/>
<rect x="317.55" y="680.00" width="16.40" height="75.00" fill="#b3b3b3" stroke="#000" stroke-width="1.1"/>
<rect x="345.05" y="740.50" width="16.40" height="14.50" fill="#9a9a9a" stroke="#000" stroke-width="1.1"/>
<rect x="371.85" y="740.00" width="16.90" height="15.00" fill="#7f7f7f" stroke="#000" stroke-width="1.1"/>
<line x1="298.15" y1="712.80" x2="298.15" y2="727.50" stroke="#000" stroke-width="1.15" stroke-linecap="butt"/>
<line x1="293.15" y1="712.80" x2="303.15" y2="712.80" stroke="#000" stroke-width="1.15" stroke-linecap="butt"/>
<line x1="325.75" y1="663.30" x2="325.75" y2="695.80" stroke="#000" stroke-width="1.15" stroke-linecap="butt"/>
<line x1="320.75" y1="663.30" x2="330.75" y2="663.30" stroke="#000" stroke-width="1.15" stroke-linecap="butt"/>
<line x1="320.75" y1="695.80" x2="330.75" y2="695.80" stroke="#000" stroke-width="1.15" stroke-linecap="butt"/>
<line x1="353.25" y1="729.00" x2="353.25" y2="750.80" stroke="#000" stroke-width="1.15" stroke-linecap="butt"/>
<line x1="348.25" y1="729.00" x2="358.25" y2="729.00" stroke="#000" stroke-width="1.15" stroke-linecap="butt"/>
<line x1="348.25" y1="750.80" x2="358.25" y2="750.80" stroke="#000" stroke-width="1.15" stroke-linecap="butt"/>
<line x1="380.30" y1="730.80" x2="380.30" y2="748.30" stroke="#000" stroke-width="1.15" stroke-linecap="butt"/>
<line x1="375.30" y1="730.80" x2="385.30" y2="730.80" stroke="#000" stroke-width="1.15" stroke-linecap="butt"/>
<line x1="375.30" y1="748.30" x2="385.30" y2="748.30" stroke="#000" stroke-width="1.15" stroke-linecap="butt"/>
<line x1="280.80" y1="635.95" x2="280.80" y2="755.55" stroke="#000" stroke-width="1.1" stroke-linecap="butt"/>
<line x1="275.50" y1="755.00" x2="400.00" y2="755.00" stroke="#000" stroke-width="1.1" stroke-linecap="butt"/>
<line x1="275.50" y1="636.50" x2="280.80" y2="636.50" stroke="#000" stroke-width="1.1" stroke-linecap="butt"/>
<text x="274.10" y="639.50" font-size="8.45" text-anchor="end" fill="#1a1a1a">80</text>
<line x1="275.50" y1="666.30" x2="280.80" y2="666.30" stroke="#000" stroke-width="1.1" stroke-linecap="butt"/>
<text x="274.10" y="669.30" font-size="8.45" text-anchor="end" fill="#1a1a1a">60</text>
<line x1="275.50" y1="696.00" x2="280.80" y2="696.00" stroke="#000" stroke-width="1.1" stroke-linecap="butt"/>
<text x="274.10" y="699.00" font-size="8.45" text-anchor="end" fill="#1a1a1a">40</text>
<line x1="275.50" y1="725.50" x2="280.80" y2="725.50" stroke="#000" stroke-width="1.1" stroke-linecap="butt"/>
<text x="274.10" y="728.50" font-size="8.45" text-anchor="end" fill="#1a1a1a">20</text>
<line x1="275.50" y1="755.00" x2="280.80" y2="755.00" stroke="#000" stroke-width="1.1" stroke-linecap="butt"/>
<text x="274.10" y="758.00" font-size="8.45" text-anchor="end" fill="#1a1a1a">0</text>
<line x1="298.20" y1="755.00" x2="298.20" y2="760.20" stroke="#000" stroke-width="1.1" stroke-linecap="butt"/>
<text x="303.60" y="764.30" font-size="8.45" text-anchor="end" fill="#1a1a1a" transform="rotate(-45 303.60 764.30)">Control</text>
<line x1="325.60" y1="755.00" x2="325.60" y2="760.20" stroke="#000" stroke-width="1.1" stroke-linecap="butt"/>
<text x="331.00" y="763.60" font-size="8.45" text-anchor="end" fill="#1a1a1a" transform="rotate(-45 331.00 763.60)">Model</text>
<line x1="353.00" y1="755.00" x2="353.00" y2="760.20" stroke="#000" stroke-width="1.1" stroke-linecap="butt"/>
<text x="358.70" y="762.30" font-size="8.45" text-anchor="end" fill="#1a1a1a" transform="rotate(-45 358.70 762.30)">Model+L</text>
<line x1="380.50" y1="755.00" x2="380.50" y2="760.20" stroke="#000" stroke-width="1.1" stroke-linecap="butt"/>
<text x="384.30" y="764.10" font-size="8.45" text-anchor="end" fill="#1a1a1a" transform="rotate(-45 384.30 764.10)">Model+H</text>
<text x="258.00" y="687.40" font-size="8.45" text-anchor="middle" fill="#1a1a1a" transform="rotate(-90 258.00 687.40)">Incubation period (s)</text>
<circle cx="291.80" cy="713.30" r="2.9" fill="#000"/>
<circle cx="305.00" cy="714.50" r="2.9" fill="#000"/>
<circle cx="298.20" cy="727.50" r="2.9" fill="#000"/>
<circle cx="325.60" cy="666.50" r="2.9" fill="#000"/>
<circle cx="325.60" cy="674.50" r="2.9" fill="#000"/>
<circle cx="325.60" cy="698.30" r="2.9" fill="#000"/>
<circle cx="353.00" cy="722.80" r="2.9" fill="#000"/>
<circle cx="353.00" cy="734.50" r="2.9" fill="#000"/>
<circle cx="353.00" cy="739.50" r="2.9" fill="#000"/>
<circle cx="346.30" cy="745.00" r="2.9" fill="#000"/>
<circle cx="360.00" cy="745.00" r="2.9" fill="#000"/>
<circle cx="353.00" cy="752.00" r="2.9" fill="#000"/>
<circle cx="380.50" cy="731.30" r="2.9" fill="#000"/>
<circle cx="380.50" cy="738.30" r="2.9" fill="#000"/>
<circle cx="380.50" cy="748.30" r="2.9" fill="#000"/>
<polyline points="325.50,634.50 325.50,628.80 380.50,628.80 380.50,723.30" fill="none" stroke="#000" stroke-width="1.15" stroke-linejoin="miter"/>
<text x="358.10" y="627.00" font-size="12.2" text-anchor="middle" fill="#000" class="st" letter-spacing="1.2">***</text>
<polyline points="298.50,705.80 298.50,649.50 323.50,649.50 323.50,655.80" fill="none" stroke="#000" stroke-width="1.15" stroke-linejoin="miter"/>
<text x="316.40" y="648.20" font-size="12.2" text-anchor="middle" fill="#000" class="st" letter-spacing="1.2">***</text>
<polyline points="327.50,655.80 327.50,649.50 353.50,649.50 353.50,717.00" fill="none" stroke="#000" stroke-width="1.15" stroke-linejoin="miter"/>
<text x="347.40" y="648.20" font-size="12.2" text-anchor="middle" fill="#000" class="st" letter-spacing="1.2">****</text>
<text x="408.50" y="615.80" font-size="14" text-anchor="start" fill="#222">K</text>
<rect x="466.85" y="701.90" width="16.40" height="50.70" fill="#000000" stroke="#000" stroke-width="1.1"/>
<rect x="493.65" y="697.40" width="16.20" height="55.20" fill="#b3b3b3" stroke="#000" stroke-width="1.1"/>
<rect x="520.75" y="686.20" width="16.00" height="66.40" fill="#9a9a9a" stroke="#000" stroke-width="1.1"/>
<rect x="547.15" y="672.40" width="16.40" height="80.20" fill="#7f7f7f" stroke="#000" stroke-width="1.1"/>
<line x1="475.05" y1="690.30" x2="475.05" y2="702.00" stroke="#000" stroke-width="1.15" stroke-linecap="butt"/>
<line x1="470.05" y1="690.30" x2="480.05" y2="690.30" stroke="#000" stroke-width="1.15" stroke-linecap="butt"/>
<line x1="501.75" y1="690.30" x2="501.75" y2="703.50" stroke="#000" stroke-width="1.15" stroke-linecap="butt"/>
<line x1="496.75" y1="690.30" x2="506.75" y2="690.30" stroke="#000" stroke-width="1.15" stroke-linecap="butt"/>
<line x1="496.75" y1="703.50" x2="506.75" y2="703.50" stroke="#000" stroke-width="1.15" stroke-linecap="butt"/>
<line x1="528.75" y1="669.50" x2="528.75" y2="701.30" stroke="#000" stroke-width="1.15" stroke-linecap="butt"/>
<line x1="523.75" y1="669.50" x2="533.75" y2="669.50" stroke="#000" stroke-width="1.15" stroke-linecap="butt"/>
<line x1="523.75" y1="701.30" x2="533.75" y2="701.30" stroke="#000" stroke-width="1.15" stroke-linecap="butt"/>
<line x1="457.50" y1="635.95" x2="457.50" y2="753.15" stroke="#000" stroke-width="1.1" stroke-linecap="butt"/>
<line x1="452.00" y1="752.60" x2="574.00" y2="752.60" stroke="#000" stroke-width="1.1" stroke-linecap="butt"/>
<line x1="452.00" y1="636.50" x2="457.50" y2="636.50" stroke="#000" stroke-width="1.1" stroke-linecap="butt"/>
<text x="450.20" y="639.50" font-size="8.45" text-anchor="end" fill="#1a1a1a">1000</text>
<line x1="452.00" y1="659.90" x2="457.50" y2="659.90" stroke="#000" stroke-width="1.1" stroke-linecap="butt"/>
<text x="450.20" y="662.90" font-size="8.45" text-anchor="end" fill="#1a1a1a">800</text>
<line x1="452.00" y1="683.20" x2="457.50" y2="683.20" stroke="#000" stroke-width="1.1" stroke-linecap="butt"/>
<text x="450.20" y="686.20" font-size="8.45" text-anchor="end" fill="#1a1a1a">600</text>
<line x1="452.00" y1="706.60" x2="457.50" y2="706.60" stroke="#000" stroke-width="1.1" stroke-linecap="butt"/>
<text x="450.20" y="709.60" font-size="8.45" text-anchor="end" fill="#1a1a1a">400</text>
<line x1="452.00" y1="729.60" x2="457.50" y2="729.60" stroke="#000" stroke-width="1.1" stroke-linecap="butt"/>
<text x="450.20" y="732.60" font-size="8.45" text-anchor="end" fill="#1a1a1a">200</text>
<line x1="452.00" y1="752.60" x2="457.50" y2="752.60" stroke="#000" stroke-width="1.1" stroke-linecap="butt"/>
<text x="450.20" y="755.60" font-size="8.45" text-anchor="end" fill="#1a1a1a">0</text>
<line x1="474.60" y1="752.60" x2="474.60" y2="757.80" stroke="#000" stroke-width="1.1" stroke-linecap="butt"/>
<text x="478.70" y="762.80" font-size="8.45" text-anchor="end" fill="#1a1a1a" transform="rotate(-45 478.70 762.80)">Control</text>
<line x1="501.80" y1="752.60" x2="501.80" y2="757.80" stroke="#000" stroke-width="1.1" stroke-linecap="butt"/>
<text x="505.90" y="762.90" font-size="8.45" text-anchor="end" fill="#1a1a1a" transform="rotate(-45 505.90 762.90)">Model</text>
<line x1="528.80" y1="752.60" x2="528.80" y2="757.80" stroke="#000" stroke-width="1.1" stroke-linecap="butt"/>
<text x="533.60" y="761.60" font-size="8.45" text-anchor="end" fill="#1a1a1a" transform="rotate(-45 533.60 761.60)">Model+L</text>
<line x1="555.60" y1="752.60" x2="555.60" y2="757.80" stroke="#000" stroke-width="1.1" stroke-linecap="butt"/>
<text x="559.80" y="761.30" font-size="8.45" text-anchor="end" fill="#1a1a1a" transform="rotate(-45 559.80 761.30)">Model+H</text>
<text x="419.30" y="689.00" font-size="8.45" text-anchor="middle" fill="#1a1a1a" transform="rotate(-90 419.30 689.00)">BDNF concentration</text>
<text x="427.50" y="692.00" font-size="8.45" text-anchor="middle" fill="#1a1a1a" transform="rotate(-90 427.50 692.00)">(pg/mL)</text>
<circle cx="468.80" cy="690.30" r="2.9" fill="#000"/>
<circle cx="474.60" cy="690.30" r="2.9" fill="#000"/>
<circle cx="480.80" cy="690.30" r="2.9" fill="#000"/>
<circle cx="495.50" cy="690.30" r="2.9" fill="#000"/>
<circle cx="501.80" cy="690.30" r="2.9" fill="#000"/>
<circle cx="508.30" cy="690.30" r="2.9" fill="#000"/>
<circle cx="495.50" cy="703.30" r="2.9" fill="#000"/>
<circle cx="501.80" cy="703.30" r="2.9" fill="#000"/>
<circle cx="508.30" cy="703.30" r="2.9" fill="#000"/>
<circle cx="525.50" cy="664.50" r="2.6" fill="#000"/>
<circle cx="528.80" cy="664.50" r="2.6" fill="#000"/>
<circle cx="532.00" cy="664.50" r="2.6" fill="#000"/>
<circle cx="523.00" cy="695.80" r="2.6" fill="#000"/>
<circle cx="526.00" cy="695.80" r="2.6" fill="#000"/>
<circle cx="529.00" cy="695.80" r="2.6" fill="#000"/>
<circle cx="532.00" cy="695.80" r="2.6" fill="#000"/>
<circle cx="535.00" cy="695.80" r="2.6" fill="#000"/>
<circle cx="550.00" cy="672.00" r="2.8" fill="#000"/>
<circle cx="553.80" cy="672.00" r="2.8" fill="#000"/>
<circle cx="557.50" cy="672.00" r="2.8" fill="#000"/>
<circle cx="561.80" cy="672.00" r="2.8" fill="#000"/>
<polyline points="501.50,682.00 501.50,650.80 555.50,650.80 555.50,664.50" fill="none" stroke="#000" stroke-width="1.15" stroke-linejoin="miter"/>
<text x="531.90" y="650.00" font-size="12.2" text-anchor="middle" fill="#000" class="st" letter-spacing="1.2">**</text>
</svg>
</body></html>
